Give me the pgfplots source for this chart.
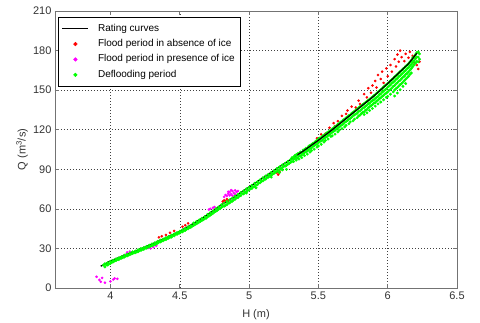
\documentclass[border=0pt]{standalone}
\usepackage{fontspec}
\setmainfont{Liberation Sans}
\usepackage{pgfplots}
\pgfplotsset{compat=1.18}

\definecolor{mgreen}{rgb}{0,1,0}
\definecolor{mred}{rgb}{1,0,0}
\definecolor{mmag}{rgb}{1,0,1}

\begin{document}
\begin{tikzpicture}
\useasboundingbox (-55bp,-35bp) rectangle (425bp,288bp);
\begin{axis}[
  scale only axis, width=402bp, height=277bp,
  xmin=3.6, xmax=6.5, ymin=0, ymax=210,
  clip marker paths=true,
  xtick={4,4.5,5,5.5,6,6.5},
  ytick={0,30,60,90,120,150,180,210},
  grid=major,
  major grid style={black!75, dash pattern=on 1bp off 2bp, line width=0.5bp},
  axis line style={black!55, line width=0.8bp},
  tick style={black!55, line width=0.6bp},
  tick align=inside, major tick length=4bp,
  ticklabel style={font=\fontsize{11bp}{13bp}\selectfont, text=black!80},
  /pgf/number format/assume math mode=true,
  xlabel={H (m)}, ylabel={Q (m\textsuperscript{3}/s)},
  label style={font=\fontsize{11bp}{13bp}\selectfont, text=black!80},
  xlabel style={at={(axis description cs:0.5,0)}, anchor=center, yshift=-27bp},
  ylabel style={at={(axis description cs:-0.082,0.5)}, anchor=center},
  legend cell align=left,
  legend style={at={(0,1)}, anchor=north west, xshift=3.5bp, yshift=-5.7bp,
    draw=black, line width=0.5bp, fill=white,
    font=\fontsize{10bp}{12bp}\selectfont,
    inner xsep=3bp, inner ysep=4bp, column sep=7bp, row sep=0pt,
    nodes={inner xsep=2bp, inner ysep=2.7bp, text height=7.5bp, text depth=2.5bp}},
  legend image code/.code={\draw[mark repeat=2,mark phase=2,#1]
    plot coordinates {(0bp,0bp) (13bp,0bp) (26bp,0bp)};},
  legend image post style={mark size=1.8bp},
]
% rating curve
\addplot[black, line width=1.3bp, mark=none] coordinates {
(3.93,16.5) (4.00,20.5) (4.10,24.7) (4.20,28.8) (4.30,33.3) (4.40,38.0)
(4.50,43.0) (4.60,49.0) (4.70,55.5) (4.80,63.0) (4.90,69.5) (5.00,76.5)
(5.10,83.5) (5.20,90.5) (5.30,97.5) (5.40,104.5) (5.50,112.0) (5.60,120.0)
(5.70,128.5) (5.80,137.0) (5.90,145.5) (6.00,155.0) (6.10,165.0) (6.15,170.0)
(6.21,178.0)};
\addlegendentry{Rating curves}

% flood period, no ice
\addplot[only marks, mark=*, mark size=1.1bp, color=mred] coordinates {
(4.35,38.4) (4.37,39.2) (4.40,40.2) (4.43,41.9) (4.46,43.3)
(4.52,46.5) (4.54,47.6) (4.56,49.0)
(4.81,65.6) (4.82,66.5) (4.83,65.9) (4.84,67.4) (4.85,66.2)
(5.20,87.5) (5.21,86.0) (5.22,88.0)
(5.49,113.5) (5.52,116.5) (5.55,117.0) (5.58,121.5) (5.61,125.0) (5.62,122.8)
(5.64,126.5) (5.67,130.5) (5.70,132.0) (5.71,134.5) (5.74,137.5) (5.77,136.8)
(5.79,142.0) (5.80,139.5) (5.83,147.0) (5.85,144.5) (5.86,151.5) (5.88,148.0)
(5.89,153.5) (5.91,157.0) (5.92,152.0) (5.93,161.5) (5.95,158.5) (5.96,164.0)
(5.97,155.5) (5.99,166.5) (6.00,160.5) (6.02,169.0) (6.03,164.0) (6.05,173.5)
(6.06,168.0) (6.07,177.0) (6.08,171.5) (6.09,180.0) (6.10,175.0) (6.12,172.0)
(6.13,177.5) (6.15,174.5) (6.16,179.0) (6.18,176.0) (6.19,171.0) (6.20,174.0)
(6.21,169.0) (6.22,166.0) (6.23,171.5) (6.22,178.5)};
\addlegendentry{Flood period in absence of ice}

% flood period, ice
\addplot[only marks, mark=*, mark size=1.1bp, color=mmag] coordinates {
(3.90,8.5) (3.92,6.2) (3.93,4.8) (3.94,7.6) (3.96,4.0) (4.00,5.0)
(4.02,6.5) (4.03,7.3) (4.05,7.0)
(4.11,25.2) (4.12,27.0) (4.14,27.6) (4.27,30.3) (4.29,30.0) (4.31,31.0) (4.33,32.0)
(4.71,59.5) (4.72,60.0) (4.74,60.8) (4.75,61.4)
(4.82,69.0) (4.83,70.5) (4.84,69.8) (4.85,71.5) (4.86,70.2) (4.86,72.8)
(4.87,71.2) (4.88,73.5) (4.88,70.0) (4.89,72.0) (4.90,74.0) (4.90,71.0)
(4.91,72.8) (4.92,73.6) (4.85,73.0) (4.87,74.2)};
\addlegendentry{Flood period in presence of ice}

% deflooding period
\addplot[only marks, mark=*, mark size=1.25bp, color=mgreen] coordinates {
(3.95,17.3) (3.96,18.4) (3.97,17.6) (3.98,19.1) (3.99,18.3) (4.00,20.2)
(4.01,19.4) (4.02,21.0) (4.03,20.5) (4.04,22.0) (4.05,21.6) (4.06,22.9)
(4.07,22.4) (4.08,23.8) (4.09,23.1) (4.10,24.9) (4.11,24.2) (4.12,25.6)
(4.13,25.0) (4.14,26.5) (4.15,25.9) (4.16,27.4) (4.17,26.6) (4.18,28.1)
(4.19,27.3) (4.20,29.0) (4.21,28.4) (4.22,29.9) (4.23,29.4) (4.24,30.6)
(4.25,30.2) (4.26,31.6) (4.27,30.9) (4.28,32.5) (4.29,31.8) (4.30,33.4)
(4.31,32.7) (4.32,34.3) (4.33,33.6) (4.34,35.3) (4.35,34.7) (4.36,36.3)
(4.37,35.6) (4.38,37.2) (4.39,36.6) (4.40,38.1) (4.41,37.6) (4.42,39.0)
(4.43,38.5) (4.44,40.1) (4.45,39.6) (4.46,41.0) (4.47,40.7) (4.48,42.0)
(4.49,41.6) (4.50,43.0) (4.51,42.6) (4.52,44.1) (4.53,43.5) (4.54,45.2)
(4.55,44.6) (4.56,46.3) (4.57,45.8) (4.58,47.3) (4.59,46.9)
(4.60,49.3) (4.61,48.1) (4.62,50.4) (4.63,49.2) (4.64,51.6) (4.65,50.5)
(4.66,52.9) (4.67,51.8) (4.68,54.1) (4.69,52.9) (4.70,55.8) (4.71,54.5)
(4.72,57.1) (4.73,55.9) (4.74,58.5) (4.75,57.6) (4.76,60.0) (4.77,58.8)
(4.78,61.4) (4.79,60.2) (4.80,63.1) (4.81,61.9) (4.82,64.2) (4.83,62.7)
(4.84,65.6) (4.85,64.4) (4.86,66.8) (4.87,65.6) (4.88,68.1) (4.89,66.9)
(4.90,69.7) (4.91,68.4) (4.92,71.0) (4.93,69.8) (4.94,72.3) (4.95,71.4)
(4.96,73.6) (4.97,72.5) (4.98,75.2) (4.99,73.9) (5.00,76.4) (5.01,75.3)
(5.02,77.8) (5.03,76.6) (5.04,79.4) (5.05,78.2) (5.06,80.6) (5.07,79.5)
(5.08,82.1) (5.09,80.8) (5.10,83.6) (5.11,82.4) (5.12,84.9) (5.13,83.7)
(5.14,86.2) (5.15,85.3) (5.16,87.7) (5.17,86.3) (5.18,89.0) (5.19,87.8)
(5.20,90.6) (5.21,89.1) (5.22,91.8) (5.23,90.4) (5.24,93.3) (5.25,92.2)
(5.26,94.6) (5.27,93.0) (5.28,95.9) (5.29,94.5) (5.30,97.4)
(3.96,16.0) (3.98,17.4) (4.00,18.6) (4.02,19.8) (4.04,20.7) (4.06,21.5)
(4.08,22.6) (4.10,23.4) (4.12,24.3) (4.14,25.2) (4.16,26.1) (4.18,26.8)
(4.20,27.6) (4.22,28.5) (4.24,29.3) (4.26,30.2) (4.28,31.1) (4.30,32.0)
(4.32,32.8) (4.34,33.9) (4.36,34.9) (4.38,35.8) (4.40,36.7) (4.42,37.7)
(4.44,38.6) (4.46,39.6) (4.48,40.6) (4.50,41.6) (4.52,42.6) (4.54,43.7)
(4.56,44.9) (4.58,46.0) (4.60,47.4) (4.62,48.7) (4.64,50.0) (4.66,51.3)
(4.68,52.5) (4.70,53.9) (4.72,55.2) (4.74,56.7) (4.76,58.1) (4.78,59.6)
(4.80,61.0) (4.82,62.0) (4.84,63.2) (4.86,64.5) (4.88,65.8) (4.90,67.3)
(4.92,68.6) (4.94,70.0) (4.96,71.3) (4.98,72.8) (5.00,74.2) (5.02,75.5)
(5.04,77.0) (5.06,78.3) (5.08,79.8) (5.10,81.2) (5.12,82.5) (5.14,84.0)
(5.16,85.6) (5.18,86.9) (5.20,88.3) (5.22,89.6) (5.24,91.1) (5.26,92.4)
(5.28,93.8) (5.30,95.2)
(5.16,84.0) (5.22,87.5) (5.27,90.0) (5.24,89.5) (4.98,72.0) (5.05,76.0)
(5.31,98.8) (5.31,96.0) (5.32,99.2) (5.32,97.5) (5.32,95.8) (5.33,100.4)
(5.33,98.1) (5.34,99.0) (5.34,101.0) (5.34,96.9) (5.35,101.8) (5.35,98.6)
(5.36,102.0) (5.36,99.9) (5.36,97.8) (5.37,103.1) (5.37,100.2) (5.38,102.5)
(5.38,100.8) (5.38,98.9) (5.39,104.6) (5.39,101.9) (5.40,104.9) (5.40,102.7)
(5.40,100.3) (5.41,106.0) (5.41,103.2) (5.42,105.4) (5.42,103.9) (5.42,101.5)
(5.43,107.5) (5.43,104.6) (5.44,108.1) (5.44,105.8) (5.44,103.0) (5.45,108.9)
(5.45,106.2) (5.45,104.1) (5.46,109.6) (5.46,107.3) (5.47,110.2) (5.47,107.9)
(5.47,105.2) (5.48,111.3) (5.48,108.7) (5.49,111.8) (5.49,109.1) (5.49,106.8)
(5.50,112.9) (5.50,110.2) (5.50,107.6) (5.51,113.7) (5.51,111.0) (5.52,114.0)
(5.52,111.5) (5.52,108.9) (5.53,115.2) (5.53,112.1) (5.54,115.9) (5.54,113.4)
(5.54,110.6) (5.55,116.4) (5.55,114.2) (5.55,111.8) (5.56,117.5) (5.56,114.6)
(5.57,118.3) (5.57,115.7) (5.57,112.9) (5.58,118.8) (5.58,116.3) (5.59,119.7)
(5.59,117.4) (5.59,114.8) (5.60,120.6) (5.60,118.1) (5.60,115.4) (5.61,121.3)
(5.61,118.8) (5.62,122.4) (5.62,119.5) (5.62,116.6) (5.63,122.9) (5.63,120.6)
(5.64,124.0) (5.64,121.2) (5.64,118.3) (5.65,124.7) (5.65,122.0) (5.65,119.6)
(5.66,125.8) (5.66,122.9) (5.67,126.3) (5.67,123.7) (5.67,120.8) (5.68,127.5)
(5.68,124.4) (5.69,128.0) (5.69,125.6) (5.69,122.1) (5.70,129.1) (5.70,126.2)
(5.70,123.3) (5.71,129.7) (5.71,127.0) (5.72,130.8) (5.72,127.9) (5.72,124.5)
(5.73,131.3) (5.73,128.6) (5.73,125.9) (5.74,132.5) (5.74,129.4) (5.75,133.1)
(5.75,130.5) (5.75,126.7) (5.76,134.0) (5.76,131.2) (5.76,128.0) (5.77,134.8)
(5.77,131.9) (5.78,135.7) (5.78,132.6) (5.78,129.1) (5.79,136.5) (5.79,133.8)
(5.79,130.4) (5.80,137.4) (5.80,134.3) (5.80,131.0) (5.81,138.1) (5.81,135.2)
(5.81,132.2) (5.82,139.0) (5.82,136.4) (5.82,133.1) (5.83,139.8) (5.83,136.9)
(5.83,133.6) (5.83,131.5) (5.84,140.7) (5.84,137.8) (5.84,134.9) (5.85,141.5)
(5.85,138.6) (5.85,135.3) (5.85,132.8) (5.86,142.4) (5.86,139.7) (5.86,136.5)
(5.87,143.2) (5.87,140.1) (5.87,137.4) (5.87,134.6) (5.88,144.0) (5.88,141.3)
(5.88,138.2) (5.89,144.9) (5.89,142.0) (5.89,139.0) (5.89,136.1) (5.90,145.8)
(5.90,142.7) (5.90,140.1) (5.91,146.6) (5.91,143.8) (5.91,140.6) (5.91,137.9)
(5.92,147.6) (5.92,144.5) (5.92,141.8) (5.93,148.5) (5.93,145.3) (5.93,142.4)
(5.93,139.6) (5.94,149.5) (5.94,146.6) (5.94,143.5) (5.95,150.4) (5.95,147.2)
(5.95,144.1) (5.95,141.0) (5.96,151.3) (5.96,148.5) (5.96,145.2) (5.97,152.4)
(5.97,149.3) (5.97,146.0) (5.97,142.7) (5.98,153.3) (5.98,150.2) (5.98,147.1)
(5.99,154.2) (5.99,151.0) (5.99,147.8) (5.99,144.5) (6.00,155.1) (6.00,152.3)
(6.00,148.6) (6.00,145.2) (6.01,155.8) (6.01,153.1) (6.01,149.9) (6.02,157.1)
(6.02,154.0) (6.02,150.5) (6.02,146.9) (6.03,158.0) (6.03,155.2) (6.03,151.6)
(6.04,158.9) (6.04,156.0) (6.04,152.8) (6.04,148.7) (6.05,160.1) (6.05,156.9)
(6.05,153.5) (6.05,150.1) (6.05,145.5) (6.06,161.0) (6.06,158.1) (6.06,154.7)
(6.06,151.2) (6.07,162.1) (6.07,159.0) (6.07,155.6) (6.07,152.0) (6.07,147.8)
(6.08,163.0) (6.08,160.2) (6.08,156.8) (6.08,153.1) (6.09,164.1) (6.09,161.0)
(6.09,157.5) (6.09,154.2) (6.09,150.3) (6.10,165.0) (6.10,162.1) (6.10,158.7)
(6.10,155.0) (6.11,166.1) (6.11,163.0) (6.11,159.8) (6.11,156.1) (6.11,152.9)
(6.12,167.0) (6.12,164.2) (6.12,160.6) (6.12,157.2) (6.13,168.1) (6.13,165.0)
(6.13,161.9) (6.13,158.3) (6.13,155.0) (6.14,169.0) (6.14,166.2) (6.14,162.7)
(6.14,159.4) (6.15,170.1) (6.15,167.0) (6.15,163.8) (6.15,160.5) (6.16,171.4)
(6.16,168.4) (6.16,165.1) (6.16,161.9) (6.17,172.5) (6.17,169.6) (6.17,166.4)
(6.17,163.0) (6.18,174.3) (6.18,171.0) (6.18,167.8) (6.19,175.5) (6.19,172.4)
(6.19,169.1) (6.20,177.0) (6.20,173.8) (6.20,170.5) (6.21,178.4) (6.21,175.2)
(6.21,171.8) (6.22,179.0) (6.22,175.0) (6.22,171.5) (6.23,177.5) (6.23,173.5)};
\addlegendentry{Deflooding period}

% upper part of the rating curve, drawn again above the scatter
\addplot[black, line width=1.2bp, mark=none, forget plot] coordinates {
(5.35,101.0) (5.40,104.5) (5.50,112.0) (5.60,120.0) (5.70,128.5) (5.80,137.0)
(5.90,145.5) (6.00,155.0) (6.10,165.0) (6.15,170.0) (6.21,178.0)};
\end{axis}
\end{tikzpicture}
\end{document}
